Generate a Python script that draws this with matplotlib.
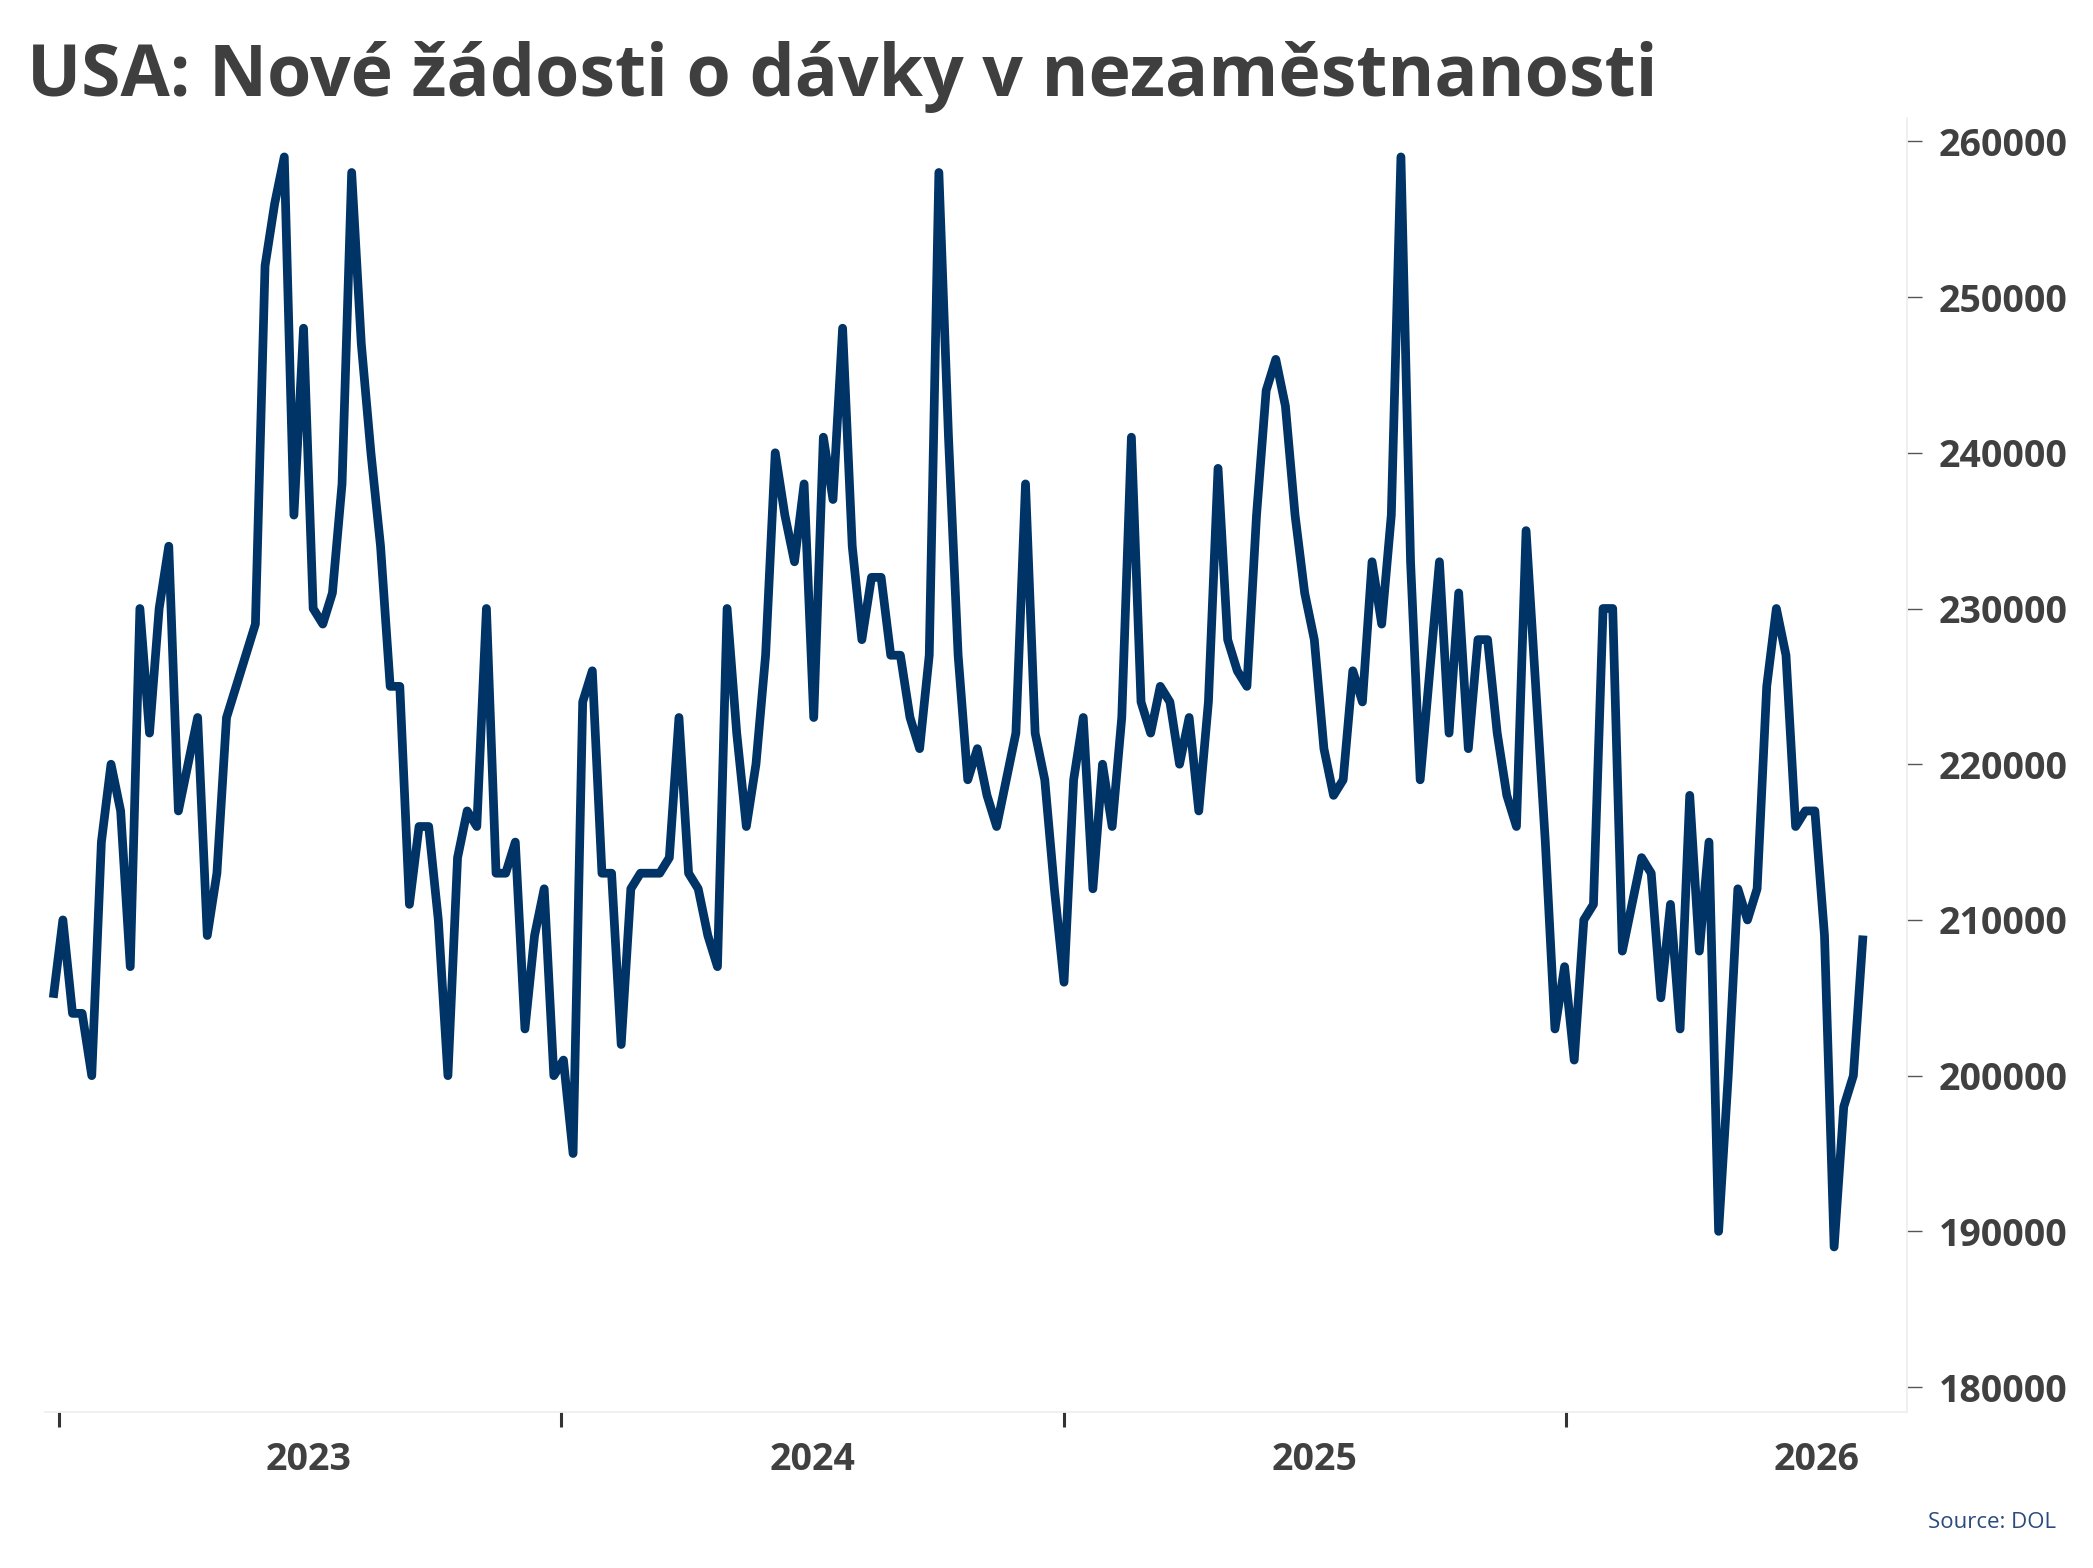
import matplotlib
matplotlib.use('Agg')
import matplotlib.pyplot as plt
import matplotlib.dates as mdates
from matplotlib.ticker import FixedLocator, FuncFormatter
import pandas as pd

# Týdenní nové žádosti o dávky v nezaměstnanosti
first_week = '2022-12-28'
claims = [
    205000, 210000, 204000, 204000, 200000, 215000, 220000, 217000, 207000, 230000,
    222000, 230000, 234000, 217000, 220000, 223000, 209000, 213000, 223000, 225000,
    227000, 229000, 252000, 256000, 259000, 236000, 248000, 230000, 229000, 231000,
    238000, 258000, 247000, 240000, 234000, 225000, 225000, 211000, 216000, 216000,
    210000, 200000, 214000, 217000, 216000, 230000, 213000, 213000, 215000, 203000,
    209000, 212000, 200000, 201000, 195000, 224000, 226000, 213000, 213000, 202000,
    212000, 213000, 213000, 213000, 214000, 223000, 213000, 212000, 209000, 207000,
    230000, 222000, 216000, 220000, 227000, 240000, 236000, 233000, 238000, 223000,
    241000, 237000, 248000, 234000, 228000, 232000, 232000, 227000, 227000, 223000,
    221000, 227000, 258000, 241000, 227000, 219000, 221000, 218000, 216000, 219000,
    222000, 238000, 222000, 219000, 212000, 206000, 219000, 223000, 212000, 220000,
    216000, 223000, 241000, 224000, 222000, 225000, 224000, 220000, 223000, 217000,
    224000, 239000, 228000, 226000, 225000, 236000, 244000, 246000, 243000, 236000,
    231000, 228000, 221000, 218000, 219000, 226000, 224000, 233000, 229000, 236000,
    259000, 233000, 219000, 226000, 233000, 222000, 231000, 221000, 228000, 228000,
    222000, 218000, 216000, 235000, 225000, 215000, 203000, 207000, 201000, 210000,
    211000, 230000, 230000, 208000, 211000, 214000, 213000, 205000, 211000, 203000,
    218000, 208000, 215000, 190000, 200000, 212000, 210000, 212000, 225000, 230000,
    227000, 216000, 217000, 217000, 209000, 189000, 198000, 200000, 209000,
]
years = [2023, 2024, 2025, 2026]
y_ticks = list(range(180000, 260001, 10000))

title = 'USA: Nové žádosti o dávky v nezaměstnanosti'
source = 'Source: DOL'

dates = pd.date_range(first_week, periods=len(claims), freq='7D')

W, H = 2093, 1568
fig = plt.figure(figsize=(W / 100, H / 100), dpi=100)
ax = fig.add_axes([45 / W, 156 / H, (1907 - 45) / W, (1450 - 156) / H])

ax.plot(dates, claims, color='#003366', lw=6.3, solid_joinstyle='round',
        solid_capstyle='butt')

ax.set_xlim(pd.Timestamp('2022-12-22'), pd.Timestamp('2026-09-06'))
ax.set_ylim(178400, 261500)

# osa y vpravo
ax.yaxis.tick_right()
ax.set_yticks(y_ticks)
ax.yaxis.set_major_formatter(FuncFormatter(lambda v, p: f'{int(v)}'))
ax.tick_params(axis='y', length=11, width=1, color='#555555', pad=12,
               labelsize=27, labelcolor='#404040')
for lbl in ax.get_yticklabels():
    lbl.set_fontfamily('Open Sans')
    lbl.set_fontweight('bold')

# osa x: čárky na začátku roku, popisky uprostřed roku
major = [mdates.date2num(pd.Timestamp(f'{y}-01-01')) for y in years]
minor = [mdates.date2num(pd.Timestamp(f'{y}-07-02')) for y in years]
ax.xaxis.set_major_locator(FixedLocator(major))
ax.xaxis.set_major_formatter(FuncFormatter(lambda v, p: ''))
ax.xaxis.set_minor_locator(FixedLocator(minor))
ax.xaxis.set_minor_formatter(FuncFormatter(lambda v, p: str(years[p])))
ax.tick_params(axis='x', which='major', length=11, width=2.2, color='#333333')
ax.tick_params(axis='x', which='minor', length=0, pad=21, labelsize=27,
               labelcolor='#404040')
for lbl in ax.get_xticklabels(minor=True):
    lbl.set_fontfamily('Open Sans')
    lbl.set_fontweight('bold')

for side in ['left', 'top']:
    ax.spines[side].set_visible(False)
for side in ['right', 'bottom']:
    ax.spines[side].set_color('#eeeeee')
    ax.spines[side].set_linewidth(1.2)

fig.text(27 / W, 1 - 96 / H, title, ha='left', va='baseline', fontsize=51.5,
         fontweight='bold', family='Open Sans', color='#3f3f3f')
fig.text(2056 / W, 1 - 1528 / H, source, ha='right', va='baseline',
         fontsize=16, family='Open Sans', color='#2b4b80')

fig.savefig('out.png', dpi=100, facecolor='white')
